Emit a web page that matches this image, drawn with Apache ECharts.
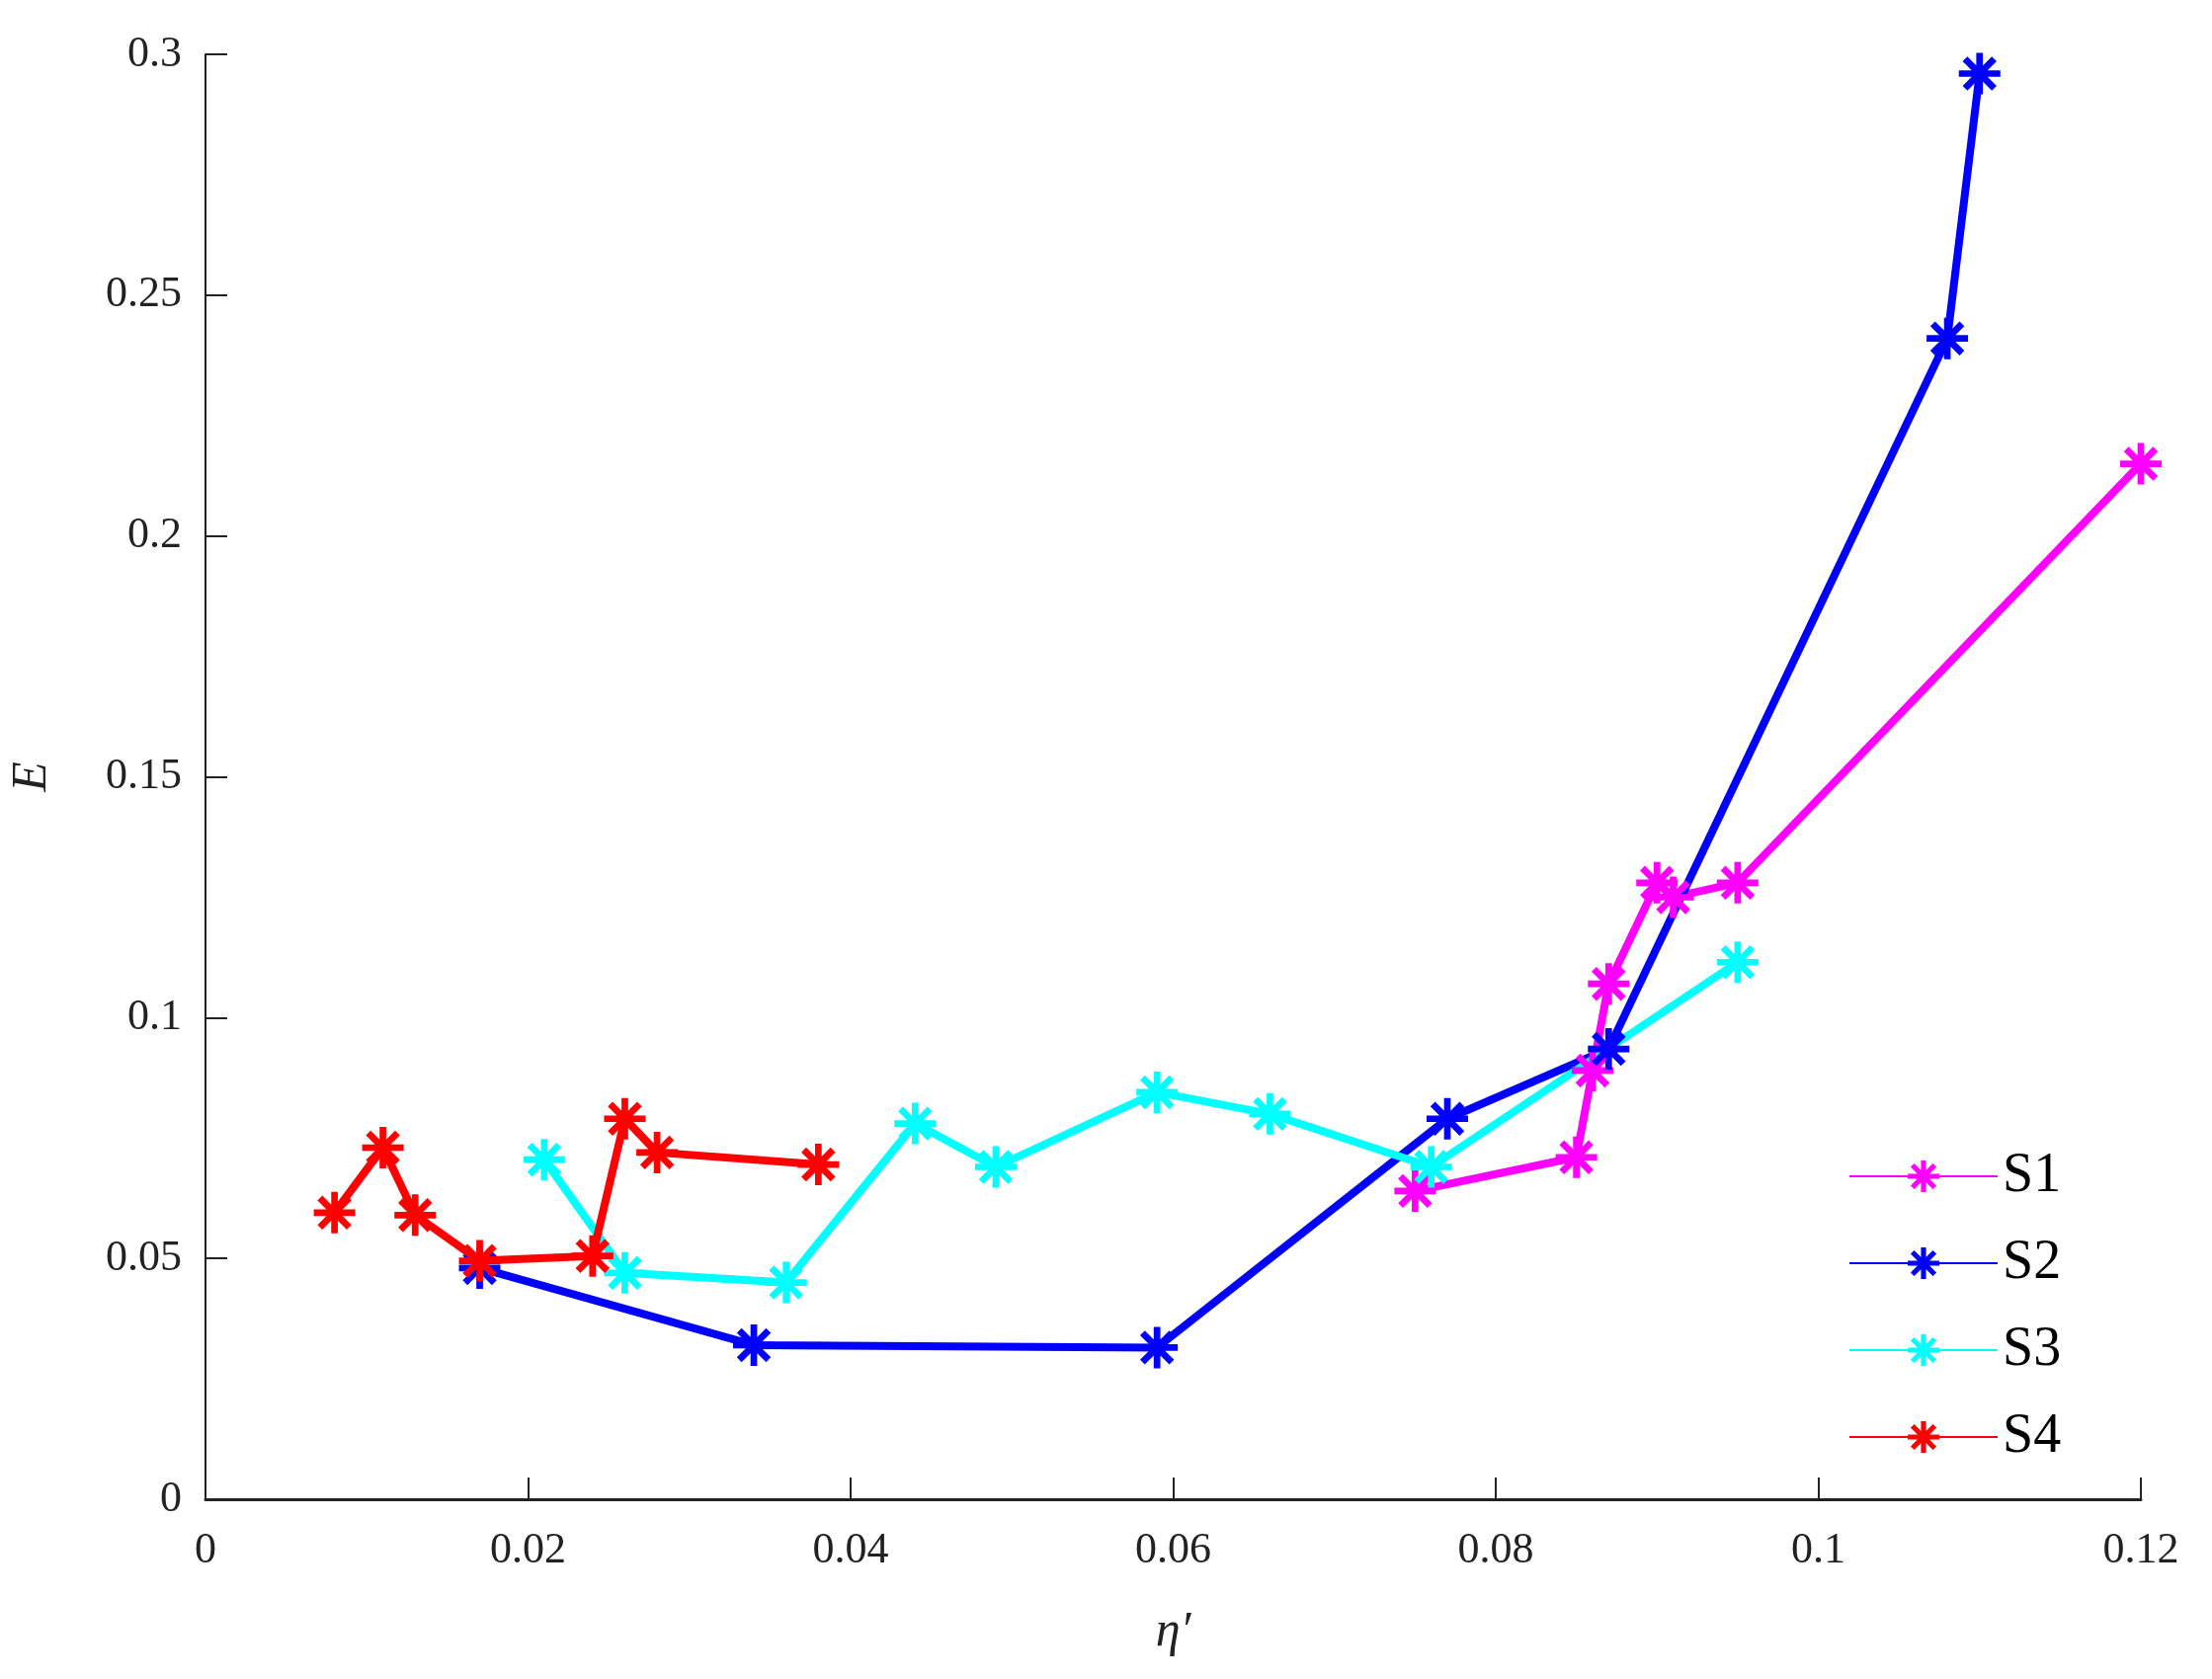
<!DOCTYPE html>
<html>
<head>
  <meta charset="utf-8">
  <title>E vs eta</title>
  <script src="https://cdn.jsdelivr.net/npm/echarts@6/dist/echarts.min.js"></script>
  <style>
    html, body { margin: 0; background: #fff; }
    #main { width: 2239px; height: 1700px; }
  </style>
</head>
<body>
<div id="main"></div>
<script>
// data, [eta', E]
var s1 = [[0.075, 0.064], [0.085, 0.071], [0.086, 0.089], [0.087, 0.107], [0.090, 0.128], [0.091, 0.125], [0.095, 0.128], [0.120, 0.215]];
var s2 = [[0.017, 0.048], [0.034, 0.032], [0.059, 0.0315], [0.077, 0.079], [0.087, 0.0935], [0.108, 0.241], [0.110, 0.296]];
var s3 = [[0.021, 0.0705], [0.026, 0.047], [0.036, 0.045], [0.044, 0.078], [0.049, 0.069], [0.059, 0.0845], [0.066, 0.080], [0.076, 0.069], [0.095, 0.1115]];
var s4 = [[0.008, 0.0595], [0.011, 0.073], [0.013, 0.059], [0.017, 0.0495], [0.024, 0.0505], [0.026, 0.079], [0.028, 0.072], [0.038, 0.0695]];
var names = ['S1', 'S2', 'S3', 'S4'];
var colors = ['#ff00ff', '#0000ff', '#00ffff', '#ff0000'];

// asterisk marker (+ and x spokes)
var star = 'path://M-1.6,-10 L1.6,-10 L1.6,10 L-1.6,10 Z M-10,-1.6 L10,-1.6 L10,1.6 L-10,1.6 Z' +
  ' M-8.2,-5.9 L-5.9,-8.2 L8.2,5.9 L5.9,8.2 Z M5.9,-8.2 L8.2,-5.9 L-5.9,8.2 L-8.2,5.9 Z';

var font = 'Liberation Serif';
var chart = echarts.init(document.getElementById('main'));

function mk(i, d) {
  return {
    name: names[i], type: 'line', data: d,
    symbol: star, symbolSize: 42,
    lineStyle: { width: 8, color: colors[i] },
    itemStyle: { color: colors[i] },
    z: 2 + (i === 3 ? 1 : 0)
  };
}

chart.setOption({
  animation: false,
  grid: { left: 204, right: 72, top: 55, bottom: 182 },
  legend: {
    orient: 'vertical', left: 1866, top: 1158,
    itemWidth: 150, itemHeight: 40, itemGap: 32,
    textStyle: { fontFamily: font, fontSize: 56, color: '#000' },
    data: names
  },
  xAxis: {
    type: 'value', min: 0, max: 0.12, interval: 0.02,
    name: 'η′', nameLocation: 'middle', nameGap: 110,
    nameTextStyle: { fontFamily: font, fontSize: 50, fontStyle: 'italic', color: '#222' },
    axisLine: { lineStyle: { color: '#222', width: 3 } },
    axisTick: { inside: true, length: 22, lineStyle: { color: '#222', width: 2 } },
    axisLabel: { fontFamily: font, fontSize: 44, color: '#222', margin: 30 },
    splitLine: { show: false }
  },
  yAxis: {
    type: 'value', min: 0, max: 0.3, interval: 0.05,
    name: 'E', nameLocation: 'middle', nameGap: 150,
    nameTextStyle: { fontFamily: font, fontSize: 50, fontStyle: 'italic', color: '#222' },
    axisLine: { lineStyle: { color: '#222', width: 2 } },
    axisTick: { inside: true, length: 22, lineStyle: { color: '#222', width: 2 } },
    axisLabel: { fontFamily: font, fontSize: 44, color: '#222', margin: 24 },
    splitLine: { show: false }
  },
  series: [mk(0, s1), mk(1, s2), mk(2, s3), mk(3, s4)]
});
</script>
</body>
</html>
